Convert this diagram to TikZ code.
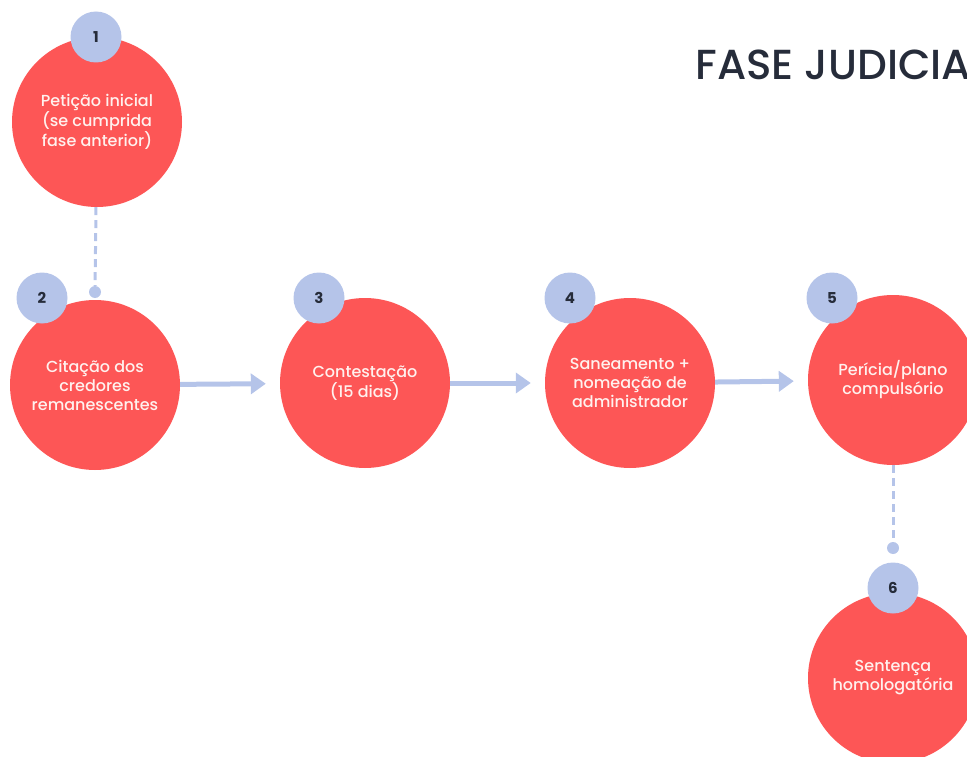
\documentclass[tikz,border=0pt]{standalone}
\usepackage{fontspec}
\setmainfont{Poppins}
\newfontfamily\stepfont{Poppins Medium}
\usetikzlibrary{arrows.meta}
\definecolor{stepred}{HTML}{FD5656}
\definecolor{badgeblue}{HTML}{B5C4E9}
\definecolor{inkdark}{HTML}{262C3A}
\definecolor{softwhite}{HTML}{FFF1EE}
\begin{document}
\begin{tikzpicture}[x=1pt, y=-1pt,
    step node/.style={circle, fill=stepred, minimum size=170pt, inner sep=0pt,
      text=softwhite, align=center, font=\stepfont\fontsize{16}{19}\selectfont},
    num node/.style={circle, fill=badgeblue, minimum size=51pt, inner sep=0pt,
      text=inkdark, font=\fontsize{15}{16}\selectfont\bfseries},
    flow/.style={draw=badgeblue, line width=5pt,
      -{Triangle[width=20pt,length=15pt]}, shorten >=14pt},
    link/.style={draw=badgeblue, line width=3pt, dash pattern=on 8pt off 5pt},
    pin dot/.style={circle, fill=badgeblue, minimum size=12pt, inner sep=0pt}]
  \useasboundingbox (0,0) rectangle (967,757);
  \clip (0,0) rectangle (967,757);

  \node[anchor=base west, text=inkdark, font=\stepfont\fontsize{42}{50}\selectfont]
    (title) at (692,80) {FASE JUDICIAL};

  \node[step node] (s1) at (97,122) {Petição inicial\\(se cumprida\\fase anterior)};
  \node[step node] (s2) at (95,385) {Citação dos\\credores\\remanescentes};
  \node[step node] (s3) at (365,383) {Contestação\\(15 dias)};
  \node[step node] (s4) at (630,383) {Saneamento +\\nomeação de\\administrador};
  \node[step node] (s5) at (893,380) {Perícia/plano\\compulsório};
  \node[step node] (s6) at (893,678) {Sentença\\homologatória};

  \node[pin dot] (d2) at (95,292) {};
  \node[pin dot] (d6) at (893,548) {};

  \node[num node] (n1) at (96,37) {1};
  \node[num node] (n2) at (42,298) {2};
  \node[num node] (n3) at (319,298) {3};
  \node[num node] (n4) at (570,298) {4};
  \node[num node] (n5) at (832,298) {5};
  \node[num node] (n6) at (893,588) {6};

  \path[link] (s1) -- (d2);
  \path[link] (s5) -- (d6);
  \path[flow] (s2) -- (s3);
  \path[flow] (s3) -- (s4);
  \path[flow] (s4) -- (s5);
\end{tikzpicture}
\end{document}
